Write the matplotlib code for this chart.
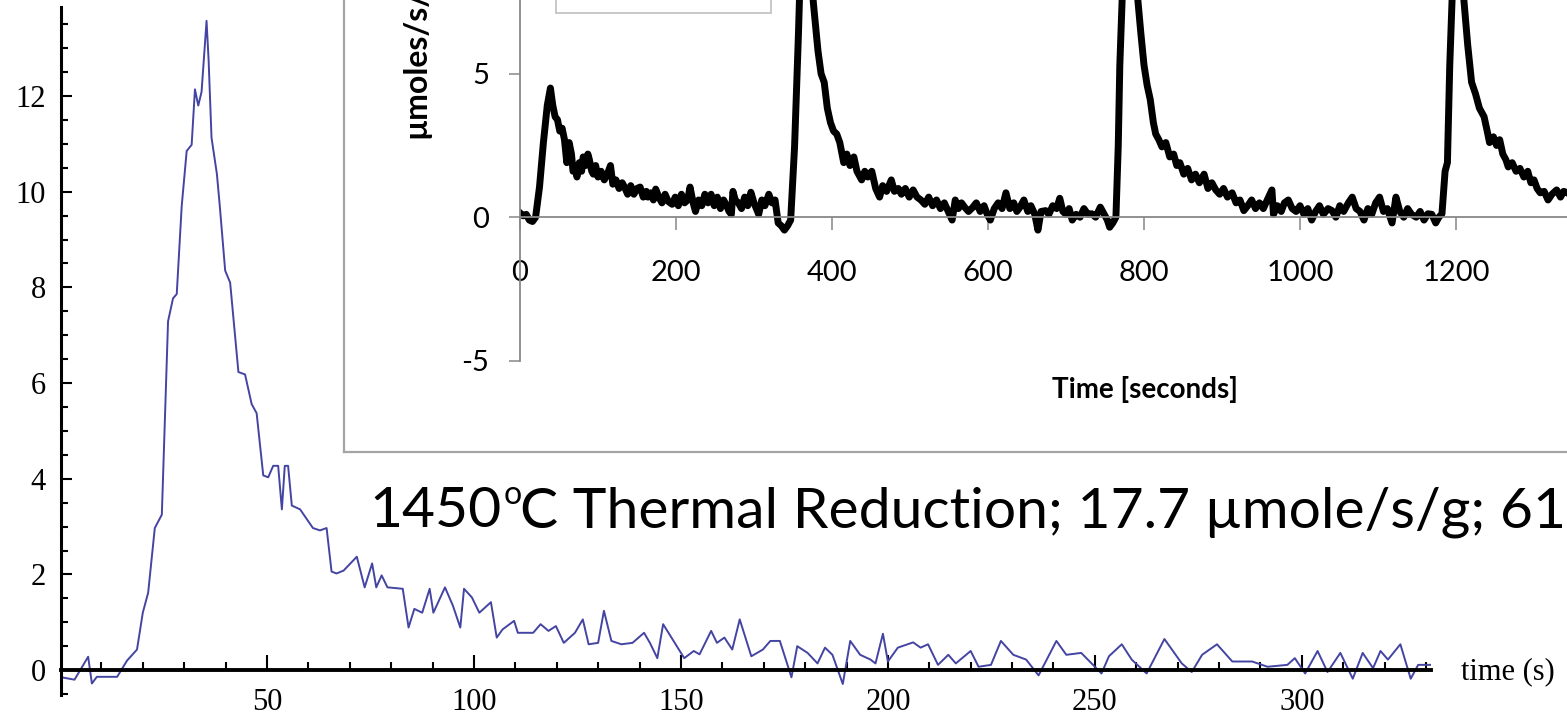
import matplotlib
matplotlib.use("Agg")
import matplotlib.pyplot as plt
from matplotlib.patches import Rectangle

# main trace (Mathematica plot), time in s
main_t = [0.4, 3.5, 6.8, 7.7, 8.9, 13.8, 16.2, 18.6, 20.0, 21.3, 22.9, 24.6, 25.4, 26.1, 27.3, 28.2,
          29.4, 30.6, 31.8, 32.6, 33.4, 34.2, 35.4, 35.9, 36.6, 37.9, 38.6, 39.9, 41.1, 43.1, 44.7,
          46.3, 47.5, 49.1, 50.3, 51.5, 52.7, 53.6, 54.3, 55.1, 56.0, 58.0, 61.1, 62.8, 64.4, 65.6,
          66.8, 68.5, 71.7, 73.6, 75.4, 76.4, 77.7, 79.1, 82.8, 84.2, 85.6, 87.5, 89.3, 90.2, 93.0,
          94.9, 96.7, 97.6, 99.5, 101.3, 104.1, 105.5, 106.9, 109.7, 110.6, 114.3, 116.1, 118.0,
          119.8, 121.7, 124.4, 126.3, 127.7, 130.0, 131.4, 133.2, 135.6, 138.3, 141.1, 142.5, 144.3,
          145.7, 148.5, 150.8, 153.1, 154.5, 157.3, 158.7, 160.5, 162.4, 164.2, 167.0, 169.8, 171.6,
          173.9, 176.7, 178.1, 180.6, 183.0, 184.8, 186.6, 189.1, 190.9, 193.3, 195.8, 197.0, 198.8,
          200.0, 202.4, 206.1, 207.9, 209.7, 212.1, 214.6, 216.4, 220.0, 221.9, 224.9, 227.3, 230.3,
          233.4, 236.4, 240.7, 243.1, 246.7, 251.6, 253.4, 256.5, 258.9, 262.5, 266.8, 271.0, 273.4,
          275.9, 279.5, 283.2, 288.0, 291.7, 296.5, 298.3, 300.8, 303.8, 306.2, 309.3, 312.3, 314.7,
          317.2, 319.0, 320.8, 323.8, 326.3, 328.1, 331.0]
main_v = [-0.15, -0.2, 0.28, -0.28, -0.14, -0.14, 0.2, 0.43, 1.2, 1.62, 2.97, 3.25, 5.37, 7.29, 7.77,
          7.86, 9.7, 10.85, 10.98, 12.14, 11.8, 12.09, 13.57, 12.75, 11.13, 10.37, 9.7, 8.35, 8.1,
          6.23, 6.18, 5.56, 5.37, 4.07, 4.03, 4.27, 4.27, 3.36, 4.27, 4.27, 3.44, 3.36, 2.97, 2.92,
          2.97, 2.06, 2.02, 2.08, 2.37, 1.73, 2.23, 1.73, 1.98, 1.73, 1.7, 0.89, 1.28, 1.2, 1.7, 1.2,
          1.73, 1.35, 0.89, 1.7, 1.52, 1.2, 1.42, 0.68, 0.85, 1.03, 0.78, 0.78, 0.96, 0.82, 0.92,
          0.57, 0.78, 1.06, 0.54, 0.57, 1.24, 0.61, 0.54, 0.57, 0.78, 0.57, 0.25, 0.96, 0.57, 0.25,
          0.4, 0.33, 0.82, 0.57, 0.68, 0.43, 1.06, 0.29, 0.43, 0.61, 0.61, -0.15, 0.5, 0.36, 0.14,
          0.47, 0.32, -0.29, 0.61, 0.32, 0.22, 0.14, 0.76, 0.18, 0.47, 0.58, 0.47, 0.54, 0.11, 0.32,
          0.14, 0.4, 0.07, 0.11, 0.61, 0.32, 0.22, -0.11, 0.61, 0.32, 0.36, -0.07, 0.29, 0.54, 0.22,
          -0.07, 0.65, 0.14, -0.04, 0.32, 0.54, 0.18, 0.18, 0.07, 0.11, 0.25, -0.07, 0.4, -0.04, 0.36,
          -0.18, 0.36, 0.04, 0.4, 0.22, 0.54, -0.18, 0.11, 0.11]
main_xticks = [50, 100, 150, 200, 250, 300]
main_yticks = [0, 2, 4, 6, 8, 10, 12]

# inset trace (Excel chart), time in seconds
inset_t = [0, 4, 8, 12, 16, 20, 25, 30, 35, 39, 42, 45, 48, 51, 54, 57, 60, 63, 66, 68, 71, 73, 76,
           79, 81, 84, 87, 89, 92, 94, 97, 100, 104, 108, 112, 116, 119, 123, 127, 131, 134, 138,
           142, 146, 150, 154, 158, 162, 164, 168, 171, 174, 178, 182, 186, 190, 195, 199, 203, 207,
           211, 215, 218, 222, 225, 229, 233, 237, 241, 245, 249, 253, 257, 261, 265, 268, 271, 273,
           276, 280, 284, 288, 292, 296, 300, 303, 306, 310, 314, 319, 323, 327, 331, 335, 339, 343,
           347, 352, 357, 363, 368, 372, 376, 382, 386, 390, 394, 398, 402, 406, 410, 415, 419, 423,
           428, 432, 438, 442, 446, 451, 456, 461, 465, 470, 476, 480, 485, 489, 494, 499, 504, 509,
           514, 519, 524, 529, 534, 539, 544, 549, 554, 558, 562, 566, 570, 575, 580, 585, 590, 595,
           599, 603, 608, 613, 618, 623, 628, 633, 637, 641, 646, 651, 655, 660, 664, 668, 674, 678,
           683, 688, 692, 696, 700, 704, 708, 713, 718, 723, 728, 733, 738, 744, 749, 753, 756, 760,
           764, 767, 769, 772, 776, 780, 785, 789, 792, 796, 800, 804, 808, 812, 815, 819, 823, 828,
           833, 838, 842, 846, 851, 856, 861, 866, 871, 877, 882, 887, 892, 897, 902, 907, 913, 918,
           923, 928, 933, 938, 943, 948, 953, 958, 964, 966, 971, 976, 980, 985, 990, 995, 1000,
           1005, 1010, 1015, 1020, 1025, 1030, 1036, 1041, 1046, 1051, 1056, 1062, 1067, 1072, 1077,
           1082, 1087, 1092, 1097, 1102, 1107, 1112, 1118, 1123, 1128, 1133, 1138, 1143, 1149, 1154,
           1159, 1164, 1169, 1174, 1178, 1182, 1186, 1189, 1192, 1195, 1199, 1203, 1207, 1210, 1215,
           1220, 1225, 1230, 1236, 1240, 1243, 1248, 1252, 1256, 1260, 1264, 1267, 1272, 1277, 1282,
           1287, 1292, 1296, 1300, 1304, 1308, 1313, 1318, 1323, 1329, 1334, 1338, 1343, 1350, 1358,
           1366, 1375]
inset_v = [0.15, 0.05, 0.1, -0.1, -0.15, 0.0, 1.05, 2.6, 3.9, 4.5, 3.9, 3.5, 3.4, 3.0, 3.1, 2.7, 1.9,
           2.6, 2.2, 1.6, 1.8, 1.4, 1.9, 1.6, 2.1, 1.8, 2.2, 2.0, 1.6, 1.5, 1.8, 1.4, 1.6, 1.3, 1.5,
           1.8, 1.15, 1.3, 1.0, 1.2, 1.05, 0.8, 1.1, 0.8, 1.0, 1.05, 0.7, 0.9, 0.7, 0.85, 0.6, 0.98,
           0.7, 0.5, 0.8, 0.55, 0.45, 0.7, 0.4, 0.8, 0.5, 0.6, 1.05, 0.5, 0.2, 0.6, 0.4, 0.8, 0.5, 0.8,
           0.4, 0.7, 0.3, 0.6, 0.4, 0.2, 0.1, 0.9, 0.6, 0.5, 0.3, 0.7, 0.4, 0.87, 0.5, 0.3, 0.1, 0.6,
           0.4, 0.8, 0.5, 0.6, -0.2, -0.3, -0.45, -0.3, -0.1, 2.45, 6.4, 12, 16, 11, 7.5, 5.8, 5.0,
           4.7, 3.8, 3.3, 3.0, 2.9, 2.6, 1.9, 2.2, 1.8, 2.1, 1.6, 1.3, 1.6, 1.4, 1.6, 1.0, 0.7, 1.1,
           0.9, 1.3, 0.9, 1.0, 0.8, 1.0, 0.7, 0.95, 0.7, 0.6, 0.45, 0.7, 0.4, 0.6, 0.3, 0.5, 0.2,
           -0.1, 0.6, 0.3, 0.5, 0.35, 0.2, 0.33, 0.5, 0.2, 0.4, 0.1, -0.1, 0.3, 0.5, 0.3, 0.85, 0.3,
           0.5, 0.2, 0.35, 0.6, 0.2, 0.4, 0.1, -0.45, 0.2, 0.23, 0.1, 0.4, 0.3, 0.66, 0.2, 0.1, 0.3,
           -0.1, 0.1, 0.0, 0.3, 0.1, 0.12, 0.0, 0.35, 0.1, -0.1, -0.35, -0.2, 0.0, 2.5, 5.3, 7.6, 13,
           17, 13, 9.5, 7.6, 6.4, 5.3, 4.6, 4.1, 3.3, 2.9, 2.7, 2.45, 2.6, 2.1, 2.2, 1.8, 1.9, 1.5,
           1.7, 1.3, 1.5, 1.2, 1.5, 1.0, 1.2, 0.95, 0.8, 1.0, 0.7, 0.85, 0.5, 0.6, 0.23, 0.4, 0.6,
           0.3, 0.5, 0.3, 0.6, 0.95, 0.1, 0.4, 0.2, 0.5, 0.6, 0.3, 0.2, 0.4, 0.1, 0.3, -0.1, 0.2,
           0.4, 0.1, 0.3, 0.23, 0.0, 0.4, 0.2, 0.5, 0.7, 0.3, 0.2, -0.1, 0.3, 0.1, 0.5, 0.7, 0.2, 0.3,
           -0.2, 0.7, 0.2, 0.0, 0.3, 0.1, 0.0, 0.2, -0.1, 0.12, 0.1, -0.2, 0.0, 0.12, 1.6, 1.9, 5.3,
           7.6, 13, 16, 11, 7.6, 6.0, 4.7, 4.3, 3.8, 3.5, 3.0, 2.6, 2.8, 2.5, 2.7, 2.2, 2.0, 1.75, 1.9,
           1.6, 1.7, 1.4, 1.6, 1.2, 1.3, 1.0, 0.85, 0.9, 0.6, 0.8, 0.95, 0.7, 0.9, 0.85, 0.7, 0.8,
           0.6, 0.7]
# only the ticks that show inside the picture
inset_xticks = [0, 200, 400, 600, 800, 1000, 1200]
inset_yticks = [-5, 0, 5]

W, H = 1567, 716
plt.rcParams['axes.unicode_minus'] = False


def fx(x):
    return x / W


def fy(y):
    return 1 - y / H


fig = plt.figure(figsize=(W / 100, H / 100), dpi=100)

### main plot
ax = fig.add_axes([fx(61), fy(695), (1431 - 61) / W, (695 - 7) / H])
ax.plot(main_t, main_v, color='#4444a2', lw=1.4)
ax.set_xlim(0.24, 331.2)
ax.set_ylim(-0.52, 13.86)
ax.spines['top'].set_visible(False)
ax.spines['right'].set_visible(False)
ax.spines['bottom'].set_position(('data', 0))
ax.spines['bottom'].set_linewidth(2.8)
ax.spines['left'].set_linewidth(2.2)
ax.set_xticks(main_xticks)
ax.set_xticks([t for t in range(10, 331, 10) if t % 50], minor=True)
ax.set_yticks(main_yticks)
ax.set_yticks([v / 2 for v in range(-1, 28) if v % 4], minor=True)
ax.tick_params(axis='x', which='major', direction='in', length=11, width=1.5, pad=13)
ax.tick_params(axis='x', which='minor', direction='in', length=6, width=1.5)
ax.tick_params(axis='y', which='major', direction='in', length=8, width=1.5, pad=11)
ax.tick_params(axis='y', which='minor', direction='in', length=5, width=1.5)
for lab in ax.get_xticklabels() + ax.get_yticklabels():
    lab.set_fontfamily('Liberation Serif')
    lab.set_fontsize(22)
fig.text(fx(1461), fy(672), 'time (s)', ha='left', va='center', family='Liberation Serif', fontsize=22)

### pasted Excel chart: frame first, then the plot
fa = fig.add_axes([fx(344), fy(452), 1.0, 1.0], zorder=2)
fa.set_xticks([])
fa.set_yticks([])
for s in fa.spines.values():
    s.set_color('#a4a4a4')
    s.set_linewidth(1.6)

ia = fig.add_axes([fx(520), fy(360.7), 1248 / W, 25 * 28.7 / H], zorder=3)
ia.patch.set_visible(False)
ia.plot(inset_t, inset_v, color='black', lw=5, solid_joinstyle='round')
ia.set_xlim(0, 1600)
ia.set_ylim(-5, 20)
ia.spines['top'].set_visible(False)
ia.spines['right'].set_visible(False)
ia.spines['bottom'].set_position(('data', 0))
for s in ['left', 'bottom']:
    ia.spines[s].set_color('#888888')
    ia.spines[s].set_linewidth(1.3)
ia.set_xticks(inset_xticks)
ia.set_yticks(inset_yticks)
ia.tick_params(axis='x', direction='out', length=9.5, width=1.1, color='#888888', pad=21)
ia.tick_params(axis='y', direction='out', length=8, width=1.1, color='#888888', pad=14)
for lab in ia.get_xticklabels() + ia.get_yticklabels():
    lab.set_fontfamily('Lato')
    lab.set_fontsize(21)

fig.add_artist(Rectangle((fx(556), fy(13)), (771 - 556) / W, 0.2, transform=fig.transFigure,
                         facecolor='white', edgecolor='#c4c4c4', lw=1.3, zorder=4))
# y title of the inset, its end runs off the top of the picture
fig.text(fx(416), fy(138), 'µmoles/s/g', rotation=90, ha='center', va='bottom',
         family='Lato', weight='bold', fontsize=23, zorder=5)
fig.text(fx(1145), fy(390), 'Time [seconds]', ha='center', va='center',
         family='Lato', weight='bold', fontsize=20, zorder=5)

# caption with a small raised "o" after 1450
renderer = fig.canvas.get_renderer()
t1 = fig.text(fx(369), fy(527), '1450', ha='left', va='baseline', family='Lato', fontsize=41, zorder=5)
x1 = t1.get_window_extent(renderer).x1
fig.text((x1 + 2) / W, fy(504), 'o', ha='left', va='baseline', family='Lato', fontsize=23, zorder=5)
fig.text((x1 + 19) / W, fy(527), 'C Thermal Reduction; 17.7 µmole/s/g; 61', ha='left',
         va='baseline', family='Lato', fontsize=41, zorder=5)

plt.savefig('out.png', dpi=100)
